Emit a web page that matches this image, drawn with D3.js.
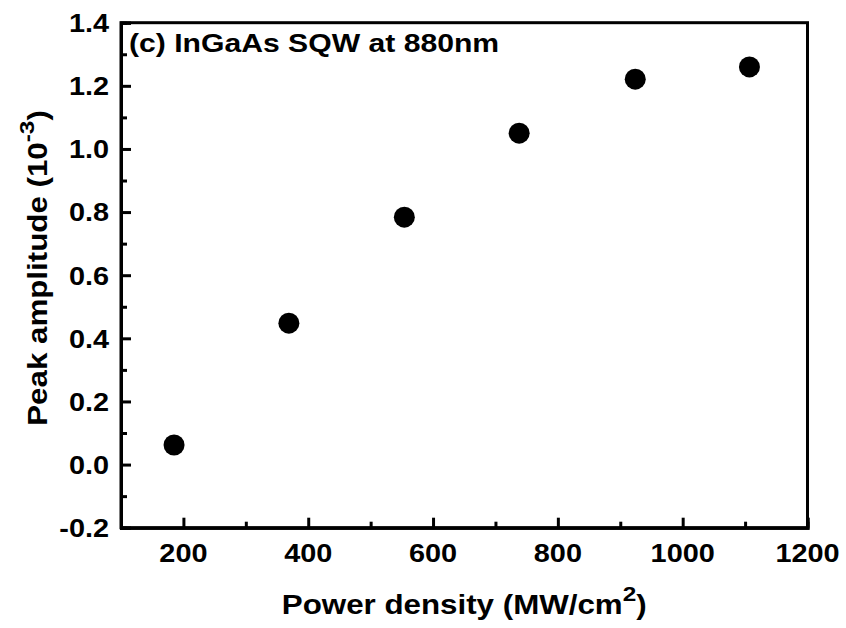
<!DOCTYPE html>
<html>
<head>
<meta charset="utf-8">
<script src="https://cdn.jsdelivr.net/npm/d3@7"></script>
<style>
  html, body { margin: 0; padding: 0; background: #fff; }
  svg text { font-family: "Liberation Sans", Arial, sans-serif; font-weight: bold; fill: #000; }
</style>
</head>
<body>
<svg id="chart" width="846" height="628"></svg>
<script>
// ---- data ----
const powerDensity = [185, 369, 554, 738, 924, 1107];
const peakAmplitude = [0.062, 0.448, 0.784, 1.05, 1.221, 1.26];
const xTicks = [200, 400, 600, 800, 1000, 1200];
const xMinorTicks = [300, 500, 700, 900, 1100];
const yTicks = [-0.2, 0.0, 0.2, 0.4, 0.6, 0.8, 1.0, 1.2, 1.4];
const yMinorTicks = [-0.1, 0.1, 0.3, 0.5, 0.7, 0.9, 1.1, 1.3];
const panelTitle = "(c) InGaAs SQW at 880nm";

// ---- layout ----
const plot = { left: 121, right: 807.5, top: 22.7, bottom: 527.7 };
const stretch = 1.16;

const svg = d3.select("#chart");
const x = d3.scaleLinear().domain([100, 1200]).range([plot.left, plot.right]);
const y = d3.scaleLinear().domain([-0.2, 1.4]).range([plot.bottom, plot.top]);

// frame (top & right)
svg.append("rect")
  .attr("x", plot.left).attr("y", plot.top)
  .attr("width", plot.right - plot.left).attr("height", plot.bottom - plot.top)
  .attr("fill", "none").attr("stroke", "#000").attr("stroke-width", 3);

function txt(tx, ty, opts = {}) {
  const t = svg.append("text")
    .attr("text-anchor", opts.anchor || "start")
    .attr("font-size", opts.size || 25)
    .attr("transform", `translate(${tx},${ty}) rotate(${opts.rot || 0}) scale(${opts.sx || stretch},1)`);
  if (opts.dy) t.attr("dy", opts.dy);
  return t;
}

// x axis
const gx = svg.append("g").attr("transform", `translate(0,${plot.bottom})`)
  .call(d3.axisBottom(x).tickValues(xTicks).tickSize(-10).tickFormat(""));
const gxm = svg.append("g").attr("transform", `translate(0,${plot.bottom})`)
  .call(d3.axisBottom(x).tickValues(xMinorTicks).tickSize(-6).tickFormat(""));
// y axis
const gy = svg.append("g").attr("transform", `translate(${plot.left},0)`)
  .call(d3.axisLeft(y).tickValues(yTicks).tickSize(-10).tickFormat(""));
const gym = svg.append("g").attr("transform", `translate(${plot.left},0)`)
  .call(d3.axisLeft(y).tickValues(yMinorTicks).tickSize(-6).tickFormat(""));
[gx, gxm, gy, gym].forEach(g => {
  g.select(".domain").attr("stroke", "#000").attr("stroke-width", 3);
  g.selectAll(".tick line").attr("stroke", "#000").attr("stroke-width", 3);
});

// tick labels
xTicks.forEach(v => {
  txt(x(v), 562, { anchor: "middle", size: 26, sx: 1.11 }).text(v);
});
yTicks.forEach(v => {
  txt(109, y(v), { anchor: "end", size: 26, sx: 1.11, dy: "0.36em" }).text(v.toFixed(1));
});

// axis titles
const xt = txt((plot.left + plot.right) / 2, 614, { anchor: "middle", size: 27 });
xt.append("tspan").text("Power density (MW/cm");
xt.append("tspan").attr("font-size", 21).attr("dy", -13).text("2");
xt.append("tspan").attr("dy", 13).text(")");

const yt = txt(47, 268, { anchor: "middle", size: 27, rot: -90 });
yt.append("tspan").text("Peak amplitude (10");
yt.append("tspan").attr("font-size", 21).attr("dy", -13).text("-3");
yt.append("tspan").attr("dy", 13).text(")");

// panel title
txt(129, 52, { size: 26 }).text(panelTitle);

// points
svg.append("g").selectAll("circle")
  .data(powerDensity.map((d, i) => [d, peakAmplitude[i]]))
  .join("circle")
  .attr("cx", d => x(d[0]))
  .attr("cy", d => y(d[1]))
  .attr("r", 10.5)
  .attr("fill", "#000");
</script>
</body>
</html>
